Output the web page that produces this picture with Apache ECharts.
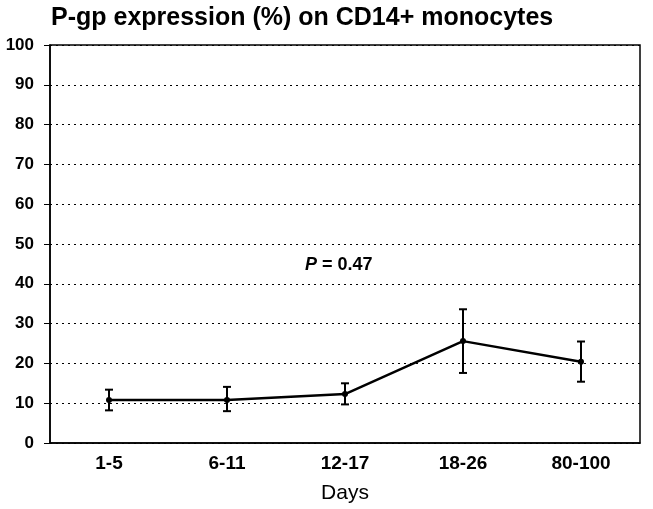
<!DOCTYPE html>
<html><head><meta charset="utf-8">
<script src="https://cdn.jsdelivr.net/npm/echarts@6/dist/echarts.min.js"></script>
<style>html,body{margin:0;padding:0;background:#fff}#c{width:653px;height:509px}</style>
</head><body><div id="c"></div>
<script>
const categories = ['1-5','6-11','12-17','18-26','80-100'];
const means = [10.8, 10.8, 12.3, 25.6, 20.4];
const errLow = [8.2, 8.0, 9.7, 17.6, 15.4];
const errHigh = [13.4, 14.1, 15.0, 33.6, 25.5];
const yTicks = [0,10,20,30,40,50,60,70,80,90,100];

const chart = echarts.init(document.getElementById('c'));
const font = '"Liberation Sans", Arial, sans-serif';
chart.setOption({
  animation: false,
  backgroundColor: '#fff',
  title: {
    text: 'P-gp expression (%) on CD14+ monocytes',
    left: 51, top: 6, padding: 0,
    textStyle: {fontFamily: font, fontWeight: 'bold', fontSize: 25, color: '#000'}
  },
  grid: {left: 50, right: 13, top: 45, bottom: 63, show: true, borderColor: '#000', borderWidth: 1.5, backgroundColor: 'transparent'},
  xAxis: {
    type: 'category', data: categories,
    name: 'Days', nameLocation: 'middle', nameGap: 40,
    nameTextStyle: {fontFamily: font, fontSize: 21, color: '#000'},
    axisLine: {lineStyle: {color: '#000', width: 1.5}},
    axisTick: {show: false},
    axisLabel: {fontFamily: font, fontWeight: 'bold', fontSize: 19, color: '#000', margin: 11}
  },
  yAxis: {
    type: 'value', min: 0, max: 100, interval: 10,
    axisLine: {show: true, lineStyle: {color: '#000', width: 1.5}},
    axisTick: {show: true, length: 6, lineStyle: {color: '#000'}},
    axisLabel: {fontFamily: font, fontWeight: 'bold', fontSize: 17, color: '#000', margin: 16,
      formatter: v => yTicks.includes(v) ? String(v) : ''},
    splitLine: {show: true, lineStyle: {color: '#000', type: [2, 4], width: 1}}
  },
  graphic: [{
    type: 'text', left: 305, top: 256,
    style: {
      rich: {
        i: {fontFamily: font, fontWeight: 'bold', fontStyle: 'italic', fontSize: 18, fill: '#000'},
        b: {fontFamily: font, fontWeight: 'bold', fontSize: 18, fill: '#000'}
      },
      text: '{i|P}{b| = 0.47}'
    }
  }],
  series: [
    {
      type: 'line', data: means, symbol: 'circle', symbolSize: 6,
      lineStyle: {color: '#000', width: 2.5}, itemStyle: {color: '#000'}, z: 3
    },
    {
      type: 'custom', z: 4,
      data: categories.map((c, i) => [i, errLow[i], errHigh[i]]),
      renderItem: function (params, api) {
        const lo = api.coord([api.value(0), api.value(1)]);
        const hi = api.coord([api.value(0), api.value(2)]);
        const w = 4;
        const st = {stroke: '#000', lineWidth: 2};
        return {type: 'group', children: [
          {type: 'line', shape: {x1: lo[0], y1: lo[1], x2: hi[0], y2: hi[1]}, style: st},
          {type: 'line', shape: {x1: lo[0]-w, y1: lo[1], x2: lo[0]+w, y2: lo[1]}, style: st},
          {type: 'line', shape: {x1: hi[0]-w, y1: hi[1], x2: hi[0]+w, y2: hi[1]}, style: st}
        ]};
      }
    }
  ]
});
</script></body></html>
